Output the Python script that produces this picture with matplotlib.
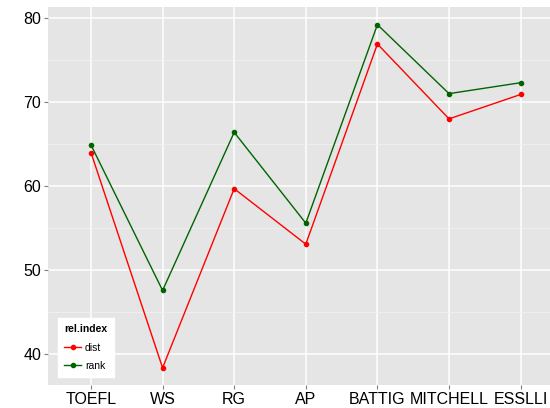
import matplotlib
matplotlib.use("Agg")
import matplotlib.pyplot as plt
from matplotlib.lines import Line2D

datasets = ["TOEFL", "WS", "RG", "AP", "BATTIG", "MITCHELL", "ESSLLI"]
dist = [64.0, 38.4, 59.7, 53.1, 76.9, 68.0, 70.9]
rank = [64.9, 47.6, 66.4, 55.6, 79.2, 71.0, 72.3]

plt.rcParams['font.family'] = ['Liberation Sans', 'DejaVu Sans']

fig = plt.figure(figsize=(5.5, 4.08), dpi=100)
ax = fig.add_axes([48 / 550, 1 - 385 / 408, 502 / 550, 378 / 408])
ax.set_facecolor("#E5E5E5")

x = list(range(len(datasets)))
ax.plot(x, dist, color="#FF0000", lw=1.0, marker="o", ms=3, zorder=3)
ax.plot(x, rank, color="#006400", lw=1.0, marker="o", ms=3, zorder=3)

ax.set_xlim(-0.6, 6.41)
ax.set_ylim(36.36, 81.3)
ax.set_xticks(x)
ax.set_xticklabels(datasets)
ax.set_yticks([40, 50, 60, 70, 80])
ax.set_yticks([45, 55, 65, 75], minor=True)

ax.grid(True, which="major", color="white", lw=1.1)
ax.grid(True, which="minor", color="#F2F2F2", lw=0.5)
ax.set_axisbelow(True)
for s in ax.spines.values():
    s.set_visible(False)
ax.tick_params(which="major", length=3, color="#7F7F7F", labelsize=11.5, labelcolor="black", pad=2)
ax.tick_params(which="minor", length=0)

handles = [Line2D([], [], color="#FF0000", lw=1.0, marker="o", ms=3),
           Line2D([], [], color="#006400", lw=1.0, marker="o", ms=3)]
leg = ax.legend(handles, ["dist", "rank"], title="rel.index",
                loc="upper left", bbox_to_anchor=(10 / 502, 67 / 378),
                fontsize=7.5, title_fontsize=7.5, frameon=True, fancybox=False,
                edgecolor="white", facecolor="white", framealpha=1,
                handlelength=1.6, handletextpad=0.4, borderpad=0.6,
                labelspacing=0.8, borderaxespad=0)
leg.get_title().set_fontweight("bold")
leg._legend_box.align = "left"

fig.savefig("out.png", dpi=100)
